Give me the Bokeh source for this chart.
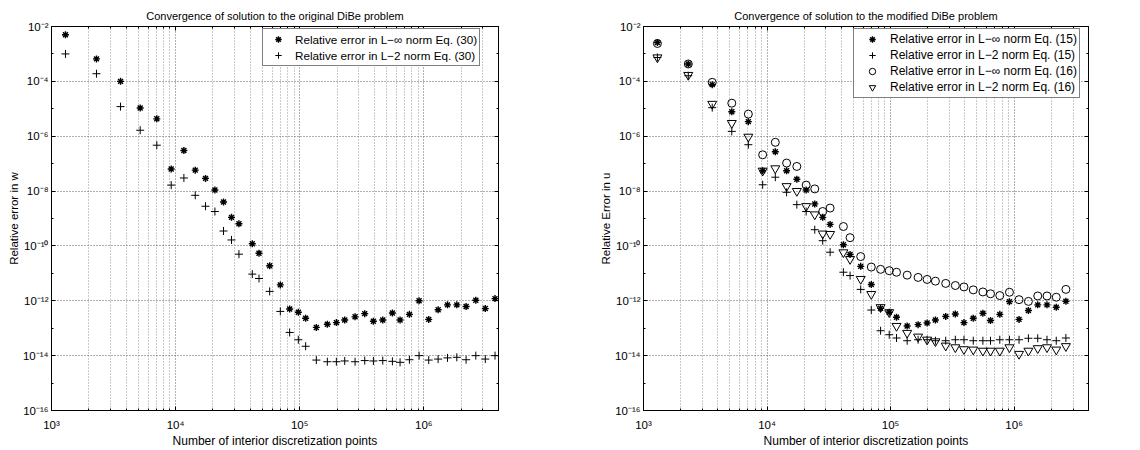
from bokeh.plotting import figure
from bokeh.layouts import row
from bokeh.models import Range1d, FixedTicker, LogAxis, CustomJSTickFormatter
from bokeh.embed import file_html
from bokeh.resources import INLINE

FONT = "Liberation Sans"

# ---------------- data ----------------
x_right = [1296, 2304, 3600, 5184, 7056, 9216, 11664, 14400, 17424, 20736,
           24336, 28224, 32400, 41500, 47000, 57300, 69800, 83000, 97500, 111700,
           136200, 167000, 197500, 230600, 279400, 334300, 392600, 467000, 558600, 644000,
           765900, 916600, 1096000, 1305000, 1553000, 1846000, 2193000, 2625000]
x_left = x_right + [3130000, 3750000]

# left panel: original DiBe problem, Eq. (30)
linf_30 = [5.0e-3, 6.6e-4, 1.0e-4, 1.07e-5, 4.3e-6, 6.4e-8, 3.0e-7, 5.8e-8, 2.9e-8, 1.1e-8,
           4.0e-9, 1.1e-9, 6.4e-10, 1.2e-10, 5.4e-11, 1.9e-11, 3.8e-12, 5.0e-13, 3.8e-13, 2.3e-13,
           1.07e-13, 1.4e-13, 1.6e-13, 2.0e-13, 2.6e-13, 3.4e-13, 1.8e-13, 2.0e-13, 3.6e-13, 2.0e-13,
           3.2e-13, 1.0e-12, 2.1e-13, 4.7e-13, 7.1e-13, 7.1e-13, 6.2e-13, 1.05e-12, 5.2e-13, 1.2e-12]
l2_30 = [1.0e-3, 1.9e-4, 1.2e-5, 1.65e-6, 4.7e-7, 1.65e-8, 3.0e-8, 7.0e-9, 2.8e-9, 1.8e-9,
         3.5e-10, 1.65e-10, 5.0e-11, 9.4e-12, 6.5e-12, 2.2e-12, 4.1e-13, 7.0e-14, 3.8e-14, 2.2e-14,
         6.9e-15, 6.0e-15, 6.0e-15, 6.4e-15, 6.0e-15, 6.6e-15, 6.4e-15, 6.6e-15, 6.2e-15, 5.7e-15,
         7.1e-15, 1.0e-14, 6.9e-15, 7.5e-15, 8.3e-15, 8.7e-15, 7.1e-15, 1.0e-14, 7.5e-15, 1.0e-14]

# right panel: modified DiBe problem, Eq. (15) and Eq. (16)
linf_15 = [2.6e-3, 4.3e-4, 7.6e-5, 7.8e-6, 3.4e-6, 5.5e-8, 2.7e-7, 5.5e-8, 2.7e-8, 1.1e-8,
           3.4e-9, 1.1e-9, 6.1e-10, 1.1e-10, 4.9e-11, 1.8e-11, 3.9e-12, 5.3e-13, 3.8e-13, 2.5e-13,
           1.2e-13, 1.35e-13, 1.55e-13, 2.0e-13, 2.7e-13, 3.3e-13, 1.6e-13, 2.3e-13, 3.5e-13, 1.9e-13,
           3.2e-13, 9.3e-13, 2.1e-13, 4.4e-13, 7.1e-13, 7.1e-13, 5.8e-13, 9.6e-13]
l2_15 = [7.4e-4, 1.6e-4, 1.1e-5, 1.5e-6, 4.9e-7, 1.7e-8, 3.2e-8, 9.0e-9, 3.2e-9, 1.8e-9,
         3.9e-10, 1.55e-10, 5.9e-11, 1.1e-11, 8.3e-12, 2.6e-12, 4.6e-13, 8.1e-14, 5.8e-14, 4.4e-14,
         3.5e-14, 3.8e-14, 3.8e-14, 3.5e-14, 3.5e-14, 3.8e-14, 3.8e-14, 3.5e-14, 3.5e-14, 3.5e-14,
         3.8e-14, 3.8e-14, 3.8e-14, 4.3e-14, 4.3e-14, 3.8e-14, 3.5e-14, 4.4e-14]
linf_16 = [2.4e-3, 4.3e-4, 9.2e-5, 1.6e-5, 6.4e-6, 2.1e-7, 6.0e-7, 1.05e-7, 7.9e-8, 1.65e-8,
           1.2e-8, 1.8e-9, 2.4e-9, 5.1e-10, 2.0e-10, 4.1e-11, 1.7e-11, 1.4e-11, 1.25e-11, 1.1e-11,
           8.6e-12, 7.1e-12, 6.0e-12, 5.2e-12, 4.3e-12, 3.6e-12, 3.2e-12, 2.5e-12, 2.1e-12, 1.8e-12,
           1.55e-12, 2.05e-12, 1.1e-12, 9.5e-13, 1.5e-12, 1.5e-12, 1.35e-12, 2.6e-12]
l2_16 = [7.4e-4, 1.7e-4, 1.5e-5, 3.0e-6, 9.5e-7, 5.5e-8, 6.7e-8, 1.5e-8, 1.0e-8, 2.8e-9,
         1.4e-9, 2.8e-10, 2.7e-10, 5.8e-11, 3.3e-11, 6.2e-12, 1.75e-12, 5.8e-13, 3.8e-13, 1.2e-13,
         6.7e-14, 4.9e-14, 3.8e-14, 3.3e-14, 2.3e-14, 2.0e-14, 1.7e-14, 1.65e-14, 1.5e-14, 1.5e-14,
         1.5e-14, 2.0e-14, 1.15e-14, 1.5e-14, 1.85e-14, 2.0e-14, 1.65e-14, 2.2e-14]

X_MAJOR = [1e3, 1e4, 1e5, 1e6]
X_MINOR = [m * 10.0 ** e for e in range(3, 7) for m in range(2, 10) if m * 10.0 ** e <= 4e6]
Y_MAJOR = [10.0 ** e for e in range(-16, -1, 2)]
Y_MINOR = [10.0 ** e for e in range(-15, -2, 2)]
XLABEL = "Number of interior discretization points"

SUP_CODE = """
const sup = {"-": "\\u207b", "0": "\\u2070", "1": "\\u00b9", "2": "\\u00b2", "3": "\\u00b3",
             "4": "\\u2074", "5": "\\u2075", "6": "\\u2076", "7": "\\u2077", "8": "\\u2078", "9": "\\u2079"};
const e = Math.round(Math.log10(tick));
let s = "";
for (const c of String(e)) { s += sup[c]; }
return "10" + s;
"""


def style_axis(ax, ticker, labels=True, standoff=4):
    ax.ticker = ticker
    ax.major_tick_in = 4
    ax.major_tick_out = 0
    ax.minor_tick_in = 2
    ax.minor_tick_out = 0
    ax.axis_line_color = "black"
    ax.major_tick_line_color = "black"
    ax.minor_tick_line_color = "black"
    ax.major_label_text_font = FONT
    ax.major_label_text_color = "black"
    ax.axis_label_text_font = FONT
    ax.axis_label_text_font_style = "normal"
    ax.axis_label_text_color = "black"
    if labels:
        ax.formatter = CustomJSTickFormatter(code=SUP_CODE)
        ax.major_label_text_font_size = "11.5px"
        ax.major_label_standoff = standoff
        ax.axis_label_standoff = 0
    else:
        ax.formatter = CustomJSTickFormatter(code="return '';")
        ax.major_label_text_font_size = "0px"
        ax.major_label_standoff = 0
        ax.axis_label_standoff = 0


def make_fig(title, ylabel, mbl, mbr):
    p = figure(width=570, height=450, x_axis_type="log", y_axis_type="log",
               x_range=Range1d(1e3, 4e6), y_range=Range1d(1e-16, 1e-2),
               output_backend="svg", toolbar_location=None,
               min_border_left=mbl, min_border_right=mbr,
               min_border_top=26, min_border_bottom=39)
    p.title.text = title
    p.title.align = "center"
    p.title.text_font = FONT
    p.title.text_font_size = "11px"
    p.title.text_font_style = "normal"
    p.title.text_color = "black"
    p.title.standoff = 10
    p.outline_line_color = "black"
    p.outline_line_width = 1
    p.outline_line_alpha = 1

    xt = FixedTicker(ticks=X_MAJOR, minor_ticks=X_MINOR)
    yt = FixedTicker(ticks=Y_MAJOR, minor_ticks=Y_MINOR)
    style_axis(p.xaxis[0], xt, standoff=8)
    style_axis(p.yaxis[0], yt, standoff=3)
    p.xaxis[0].axis_label = XLABEL
    p.xaxis[0].axis_label_text_font_size = "12px"
    p.yaxis[0].axis_label = ylabel
    p.yaxis[0].axis_label_text_font_size = "11.5px"

    top = LogAxis()
    right = LogAxis()
    p.add_layout(top, "above")
    p.add_layout(right, "right")
    style_axis(top, FixedTicker(ticks=X_MAJOR, minor_ticks=X_MINOR), labels=False)
    style_axis(right, FixedTicker(ticks=Y_MAJOR, minor_ticks=Y_MINOR), labels=False)

    p.xgrid.ticker = xt
    p.ygrid.ticker = yt
    for g in (p.xgrid, p.ygrid):
        g.grid_line_color = "#606060"
        g.grid_line_dash = "1 2"
        g.grid_line_width = 1
    p.xgrid.minor_grid_line_color = "#969696"
    p.xgrid.minor_grid_line_dash = "1 2"
    p.ygrid.minor_grid_line_color = None
    return p


def style_legend(p, loc, glyph_width, standoff, font_size):
    leg = p.legend[0]
    leg.location = loc
    leg.label_text_font = FONT
    leg.label_text_font_size = font_size
    leg.label_text_color = "black"
    leg.label_height = 16
    leg.glyph_height = 16
    leg.glyph_width = glyph_width
    leg.label_standoff = standoff
    leg.spacing = 0
    leg.padding = 2
    leg.margin = 0
    leg.border_line_color = "black"
    leg.border_line_width = 1.5
    leg.background_fill_color = "white"
    leg.background_fill_alpha = 1


# ---------------- left panel ----------------
p1 = make_fig("Convergence of solution to the original DiBe problem", "Relative error in w", 51, 72)
p1.scatter(x_left, linf_30, marker="asterisk", size=7, line_color="black", line_width=1.4,
           legend_label="Relative error in L\u2212\u221e norm Eq. (30)")
p1.scatter(x_left, l2_30, marker="cross", size=8, line_color="black", line_width=1,
           legend_label="Relative error in L\u22122 norm Eq. (30)")
style_legend(p1, (211, 344), 26, 4, "11.7px")

# ---------------- right panel ----------------
p2 = make_fig("Convergence of solution to the modified DiBe problem", "Relative Error in u", 73, 52)
p2.scatter(x_right, linf_15, marker="asterisk", size=7, line_color="black", line_width=1.4,
           legend_label="Relative error in L\u2212\u221e norm Eq. (15)")
p2.scatter(x_right, l2_15, marker="cross", size=8, line_color="black", line_width=1,
           legend_label="Relative error in L\u22122 norm Eq. (15)")
p2.scatter(x_right, linf_16, marker="circle", size=8, fill_color=None, line_color="black", line_width=1,
           legend_label="Relative error in L\u2212\u221e norm Eq. (16)")
p2.scatter(x_right, l2_16, marker="inverted_triangle", size=9, fill_color=None, line_color="black",
           line_width=1, legend_label="Relative error in L\u22122 norm Eq. (16)")
style_legend(p2, (210, 312), 32, 2, "12px")

layout = row(p1, p2)
open("out.html", "w", encoding="utf-8").write(file_html(layout, INLINE))
